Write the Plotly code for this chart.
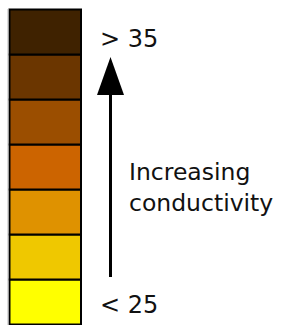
import plotly.graph_objects as go

# ---- data ----
class_index = [0, 1, 2, 3, 4, 5, 6]          # bottom (low) -> top (high)
class_height = [1, 1, 1, 1, 1, 1, 1]
class_colors = ["#ffff00", "#efc800", "#df9200", "#cc6400", "#9b4e00", "#6b3600", "#3f2200"]
low_label = "< 25"
high_label = "> 35"
legend_text = "Increasing<br>conductivity"

# ---- pixel helpers (layout only) ----
W, H = 282, 325
BAR_L, BAR_W = 9.5, 71.5      # px
TOP, CELL = 9.5, 45.0         # px
n = len(class_index)
x0 = -0.5 - BAR_L / BAR_W
x1 = x0 + W / BAR_W
y1 = n + TOP / CELL
y0 = y1 - H / CELL


def px(xp):
    return x0 + xp / BAR_W


def py(yp):
    return y1 - yp / CELL


fig = go.Figure()
fig.add_trace(go.Bar(
    x=[0] * n, y=class_height, base=class_index, width=1,
    marker=dict(color=class_colors, line=dict(color="black", width=2)),
    hoverinfo="skip", showlegend=False,
))

font = dict(family="DejaVu Sans", size=24, color="#111111")
font2 = dict(family="DejaVu Sans", size=23.5, color="#111111")
fig.add_annotation(x=px(98.6), y=py(38.7), text=high_label, showarrow=False,
                   xanchor="left", yanchor="middle", font=font, borderpad=0)
fig.add_annotation(x=px(98.6), y=py(304.7), text=low_label, showarrow=False,
                   xanchor="left", yanchor="middle", font=font, borderpad=0)
fig.add_annotation(x=px(127.5), y=py(187.7), text=legend_text, showarrow=False,
                   xanchor="left", yanchor="middle", align="left", font=font2, borderpad=0)

# arrow shaft and head
fig.add_shape(type="line", x0=px(110.5), x1=px(110.5), y0=py(94), y1=py(277),
              line=dict(color="black", width=3))
fig.add_shape(type="path",
              path=f"M {px(97)},{py(95)} L {px(124)},{py(95)} L {px(110.5)},{py(57)} Z",
              fillcolor="black", line=dict(color="black", width=0))
# faint grey edge at left of the bar
fig.add_shape(type="line", x0=px(8), x1=px(8), y0=py(9), y1=py(325),
              line=dict(color="#bbbbbb", width=1))

fig.update_layout(
    width=W, height=H, margin=dict(l=0, r=0, t=0, b=0),
    paper_bgcolor="white", plot_bgcolor="white", showlegend=False,
    xaxis=dict(range=[x0, x1], visible=False, fixedrange=True),
    yaxis=dict(range=[y0, y1], visible=False, fixedrange=True),
)
fig.write_html("out.html", config={"displayModeBar": False},
               post_script="document.body.style.margin='0';document.body.style.overflow='hidden';")
